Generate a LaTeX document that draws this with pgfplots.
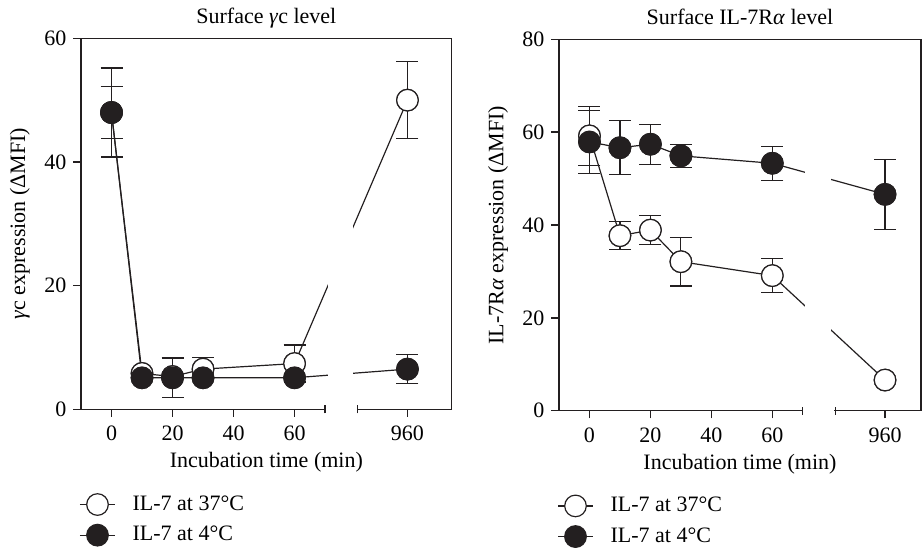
\documentclass[border=0pt]{standalone}
\usepackage{fontspec}
\setmainfont{Liberation Serif}
\usepackage{pgfplots}
\usepackage{pgfplotstable}
\pgfplotsset{compat=1.18}
\definecolor{ink}{RGB}{35,31,32}

% surface gamma-c (time in min, mean, error)
\pgfplotstableread{
t y e
0 48 7.2
10 5.8 0
20 5.3 0
30 6.5 1.9
60 7.4 3.0
960 50 6.2
}\gcwarm
\pgfplotstableread{
t y e
0 48 4.2
10 5.1 0
20 5.1 3.2
30 5.1 0
60 5.1 0
960 6.5 2.35
}\gccold
% surface IL-7Ralpha
\pgfplotstableread{
t y e
0 59.2 6.3
10 37.7 3.05
20 38.9 3.15
30 32.1 5.25
60 29.1 3.65
960 6.6 0
}\rawarm
\pgfplotstableread{
t y e
0 57.9 6.8
10 56.65 5.8
20 57.4 4.3
30 54.9 2.5
60 53.3 3.65
960 46.6 7.55
}\racold

% broken time axis: 960 min sits at 97 on the drawn scale
\def\brkx{\thisrow{t}>500 ? \thisrow{t}-863 : \thisrow{t}}

\pgfplotsset{
  brk/.style={
    scale only axis, clip=false,
    font=\fontsize{11}{13.2}\selectfont,
    /pgf/number format/assume math mode=true,
    xmin=-10, ymin=0,
    axis x line*=bottom, axis y line*=left,
    xtick={0,20,40,60,97}, xticklabels={0,20,40,60,960},
    tick align=outside,
    axis line style={ink, line width=0.7pt},
    tick style={ink, line width=0.7pt},
    major tick length=3.8pt,
    xticklabel style={yshift=-1pt},
    xlabel={Incubation time (min)},
    xlabel style={at={(axis description cs:0.5,0)}, anchor=base, yshift=-29.3pt},
    title style={at={(axis description cs:0.5,1)}, anchor=base, yshift=1.5pt},
    legend style={at={(axis description cs:0,0)}, anchor=north west,
      xshift=-1pt, yshift=-41pt, draw=none, fill=none, inner sep=0pt,
      row sep=2.5pt, cells={anchor=west}},
    legend cell align=left,
    legend image code/.code={
      \draw[ink, line width=0.6pt] (0pt,0pt) -- (17.5pt,0pt);
      \draw plot coordinates {(8.75pt,0pt)};
      \path (24pt,0pt);},
  },
  warm/.style={ink, line width=0.6pt, mark=*, mark size=5.4pt,
    mark options={fill=white, draw=ink, line width=0.6pt}},
  cold/.style={ink, line width=0.6pt, mark=*, mark size=5.4pt,
    mark options={fill=ink, draw=ink, line width=0.6pt}},
  bars/.style={only marks, forget plot,
    error bars/.cd, y dir=both, y explicit,
    error bar style={ink, line width=0.6pt},
    error mark options={rotate=90, ink, line width=0.6pt, mark size=5.5pt}},
}

\begin{document}
\begin{tikzpicture}
\begin{axis}[brk, width=185.35pt, height=185.5pt, xmax=111.5, ymax=60,
    ytick={0,20,40,60},
    title={Surface \textit{γ}c level},
    ylabel={\textit{γ}c expression (ΔMFI)},
    ylabel style={at={(axis description cs:-0.165,0.5)}, anchor=center}]
  \addplot[warm] table[x expr=\brkx, y=y] {\gcwarm};
  \addlegendentry{IL-7 at 37°C}
  \addplot[cold] table[x expr=\brkx, y=y] {\gccold};
  \addlegendentry{IL-7 at 4°C}
  \fill[white] (axis cs:70.8,-1) rectangle (axis cs:79.3,59.6);
  \fill[white] (axis cs:70.2,-1) rectangle (axis cs:80.4,1);
  \addplot[warm, bars] table[x expr=\brkx, y=y, y error=e] {\gcwarm};
  \addplot[cold, bars] table[x expr=\brkx, y=y, y error=e] {\gccold};
  \coordinate (La) at (axis cs:70,0);
  \coordinate (Lb) at (axis cs:80.7,0);
  \coordinate (Lc) at (axis cs:111.5,0);
  \coordinate (Ld) at (axis cs:111.5,60);
  \coordinate (Le) at (axis cs:-10,60);
\end{axis}
\begin{axis}[brk, at={(239pt,-0.7pt)}, width=181pt, height=185.7pt,
    xmax=108.8, ymax=80,
    ytick={0,20,40,60,80},
    title={Surface IL-7R\textit{α} level},
    ylabel={IL-7R\textit{α} expression (ΔMFI)},
    ylabel style={at={(axis description cs:-0.168,0.5)}, anchor=center}]
  \addplot[warm] table[x expr=\brkx, y=y] {\rawarm};
  \addlegendentry{IL-7 at 37°C}
  \addplot[cold] table[x expr=\brkx, y=y] {\racold};
  \addlegendentry{IL-7 at 4°C}
  \fill[white] (axis cs:70.8,-1) rectangle (axis cs:79.3,79.6);
  \fill[white] (axis cs:70.2,-1) rectangle (axis cs:80.4,1);
  \addplot[warm, bars] table[x expr=\brkx, y=y, y error=e] {\rawarm};
  \addplot[cold, bars] table[x expr=\brkx, y=y, y error=e] {\racold};
  \coordinate (Ra) at (axis cs:70,0);
  \coordinate (Rb) at (axis cs:80.7,0);
  \coordinate (Rc) at (axis cs:108.8,0);
  \coordinate (Rd) at (axis cs:108.8,80);
  \coordinate (Re) at (axis cs:-10,80);
\end{axis}
% frame pieces of the broken axes
\foreach \p in {L,R} {
  \draw[ink, line width=0.7pt] ([yshift=-2pt]\p a) -- ([yshift=2pt]\p a);
  \draw[ink, line width=0.7pt] ([yshift=-2pt]\p b) -- ([yshift=2pt]\p b);
  \fill[ink] ([yshift=-0.35pt]\p b) rectangle ([yshift=0.35pt]\p c);
  \draw[ink, line width=0.7pt] (\p c) -- (\p d) -- (\p e);
}
\pgfresetboundingbox
\useasboundingbox (-40.5pt,-68.85pt) rectangle (420.5pt,204.65pt);
\end{tikzpicture}
\end{document}
